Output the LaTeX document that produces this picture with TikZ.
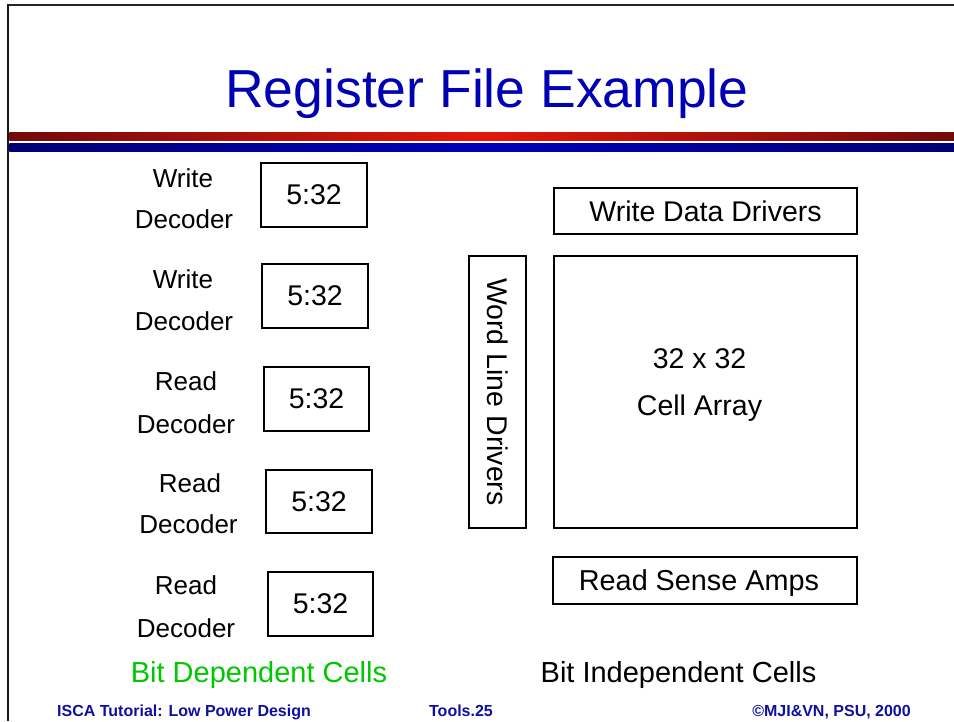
\documentclass[tikz,border=0pt]{standalone}
\usepackage{fontspec}
\setmainfont{Liberation Sans}
\definecolor{titleblue}{RGB}{0,0,180}
\definecolor{footblue}{RGB}{16,16,160}
\definecolor{bandred}{RGB}{115,10,10}
\definecolor{bandredc}{RGB}{228,24,10}
\definecolor{bandblue}{RGB}{0,0,115}
\definecolor{bandbluec}{RGB}{0,0,185}
\definecolor{cellgreen}{RGB}{0,200,0}
\begin{document}
\begin{tikzpicture}[x=1pt,y=-1pt,
  box/.style={draw, line width=2pt, inner sep=0pt, outer sep=0pt, text depth=0pt,
    font=\fontsize{28.5}{34}\selectfont},
  lbl/.style={anchor=base, inner sep=0pt, font=\fontsize{26}{31}\selectfont},
  big/.style={anchor=base, inner sep=0pt, font=\fontsize{29}{34}\selectfont},
  foot/.style={anchor=base, inner sep=0pt, text=footblue, font=\fontsize{16}{19}\selectfont\bfseries}]
\useasboundingbox (0,0) rectangle (954,721);
\fill[white] (0,0) rectangle (954,721);
% frame
\draw[line width=2.5pt, black!85] (6.8,5) -- (954,5);
\draw[line width=2.5pt, black!90] (8,3.8) -- (8,721);
% bands
\shade[left color=bandred, right color=bandred, middle color=bandredc] (9.3,132.3) rectangle (954,140);
\shade[left color=bandblue, right color=bandblue, middle color=bandbluec] (9.3,143.5) rectangle (954,151.7);
% title
\node[anchor=base, inner sep=0pt, text=titleblue, font=\fontsize{53.5}{60}\selectfont] (title) at (487,107) {Register File Example};
% decoders
\node[box, minimum width=106pt, minimum height=64pt] (d1) at (314,195) {5:32};
\node[box, minimum width=106pt, minimum height=64pt] (d2) at (315,296) {5:32};
\node[box, minimum width=105pt, minimum height=64pt] (d3) at (316.5,399) {5:32};
\node[box, minimum width=106pt, minimum height=63pt] (d4) at (319,501.5) {5:32};
\node[box, minimum width=105pt, minimum height=64pt] (d5) at (320.5,604) {5:32};
\node[lbl] (l1a) at (183,187) {Write};
\node[lbl] (l1b) at (184,228) {Decoder};
\node[lbl] (l2a) at (183,288) {Write};
\node[lbl] (l2b) at (184,330) {Decoder};
\node[lbl] (l3a) at (186,390) {Read};
\node[lbl] (l3b) at (186,433) {Decoder};
\node[lbl] (l4a) at (190,492) {Read};
\node[lbl] (l4b) at (188.5,533) {Decoder};
\node[lbl] (l5a) at (186,594) {Read};
\node[lbl] (l5b) at (186,637) {Decoder};
% right side
\node[box, minimum width=303pt, minimum height=46pt] (wdd) at (705.5,211) {Write Data Drivers};
\node[box, rotate=-90, minimum width=272pt, minimum height=57pt] (wld) at (497.5,392) {Word Line Drivers};
\node[box, minimum width=303pt, minimum height=272pt] (cell) at (705.5,392) {};
\node[big, font=\fontsize{28.5}{34}\selectfont] (c1) at (699.5,368) {32 x 32};
\node[big, font=\fontsize{28.5}{34}\selectfont] (c2) at (699.5,415) {Cell Array};
\node[box, minimum width=304pt, minimum height=47pt] (rsa) at (705,580.5) {};
\node[big, font=\fontsize{28.8}{34}\selectfont] (rsat) at (699,590) {Read Sense Amps};
% bottom labels
\node[big, text=cellgreen] (dep) at (259,682) {Bit Dependent Cells};
\node[big] (indep) at (678.5,682) {Bit Independent Cells};
% footer
\node[foot, anchor=base west] (f1) at (57,716) {ISCA Tutorial: Low Power Design};
\node[foot] (f2) at (461,716) {Tools.25};
\node[foot, anchor=base east] (f3) at (911,716) {©MJI\&VN, PSU, 2000};
\end{tikzpicture}
\end{document}
